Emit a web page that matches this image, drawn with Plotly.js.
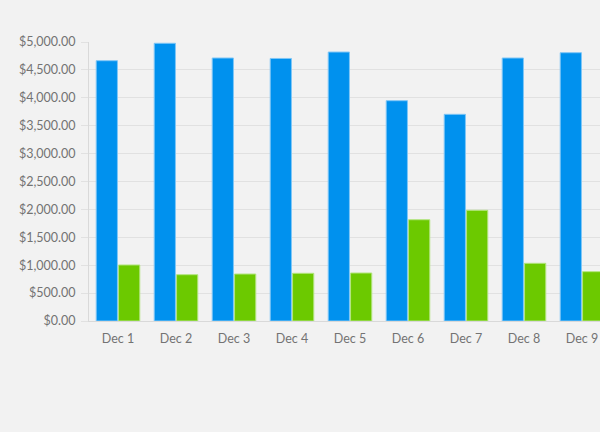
<!DOCTYPE html>
<html>
<head>
<meta charset="utf-8">
<script src="https://cdn.plot.ly/plotly-3.0.1.min.js"></script>
<style>
html, body { margin:0; padding:0; background:#f2f2f2; overflow:hidden; width:600px; height:432px; }
#chart { width:620px; height:432px; }
</style>
</head>
<body>
<div id="chart"></div>
<script>
const categories = ["Dec 1","Dec 2","Dec 3","Dec 4","Dec 5","Dec 6","Dec 7","Dec 8","Dec 9"];
const seriesBlue = [4665, 4977, 4713, 4705, 4820, 3948, 3704, 4713, 4808];
const seriesGreen = [1004, 830, 842, 855, 860, 1815, 1984, 1034, 884];

const traces = [
  { type:"bar", x:categories, y:seriesBlue, name:"Series 1",
    marker:{ color:"#0091ee", line:{ color:"#7fc6f6", width:1 } } },
  { type:"bar", x:categories, y:seriesGreen, name:"Series 2",
    marker:{ color:"#6cc900", line:{ color:"#b3e47f", width:1 } } }
];

const layout = {
  width:620, height:432,
  paper_bgcolor:"#f2f2f2", plot_bgcolor:"#f2f2f2",
  margin:{ l:89, r:9, t:42, b:111 },
  showlegend:false,
  barmode:"group", bargap:0.23, bargroupgap:0.05,
  font:{ family:"Lato, sans-serif", size:13, color:"#737373" },
  xaxis:{ type:"category", range:[-0.5, 8.5], showgrid:false, showline:true,
          linecolor:"#d9d9d9", linewidth:1, ticks:"", ticklabelstandoff:6,
          tickfont:{ family:"Lato, sans-serif", size:12.5, color:"#737373" } },
  yaxis:{ range:[0,5000], dtick:500, tickformat:"$,.2f", showgrid:true,
          gridcolor:"#e1e1e1", gridwidth:1, showline:true, linecolor:"#d9d9d9",
          zeroline:false, ticks:"outside", ticklen:7, tickcolor:"#e1e1e1", tickwidth:1,
          ticklabelstandoff:3,
          tickfont:{ family:"Lato, sans-serif", size:12.5, color:"#737373" } }
};

Plotly.newPlot("chart", traces, layout, { displayModeBar:false, staticPlot:true });
</script>
</body>
</html>
